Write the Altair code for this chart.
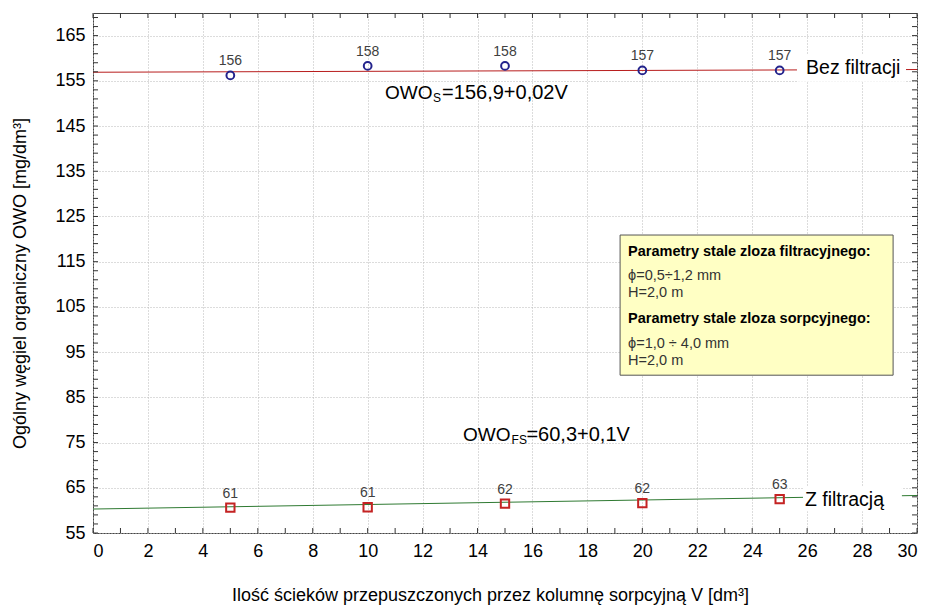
import altair as alt
import pandas as pd

# ---- data ----
V = [5, 10, 15, 20, 25]
owo_s = [156.2, 158.3, 158.3, 157.3, 157.3]
owo_s_lbl = ["156", "158", "158", "157", "157"]
owo_fs = [60.6, 60.7, 61.5, 61.6, 62.5]
owo_fs_lbl = ["61", "61", "62", "62", "63"]

fit_x = [0, 30]
fit_s = [156.9, 157.5]
fit_fs = [60.3, 63.3]

x_grid = [0, 2, 4, 6, 8, 10, 12, 14, 16, 18, 20, 22, 24, 26, 28, 30]
y_grid = [55, 65, 75, 85, 95, 105, 115, 125, 135, 145, 155, 165]
x_minor = list(range(0, 31))
y_minor = list(range(55, 171, 2))

FONT = "Liberation Sans"
W, H = 824, 520

xs = alt.Scale(domain=[0, 30], nice=False, zero=False)
ys = alt.Scale(domain=[55, 170], nice=False, zero=False)

pts_s = pd.DataFrame({"V": V, "y": owo_s, "lbl": owo_s_lbl})
pts_fs = pd.DataFrame({"V": V, "y": owo_fs, "lbl": owo_fs_lbl})
fit = pd.DataFrame({"V": fit_x, "s": fit_s, "fs": fit_fs})

X = alt.X("V:Q", scale=xs, axis=alt.Axis(
    values=x_grid, title="Ilość ścieków przepuszczonych przez kolumnę sorpcyjną V [dm³]",
    titleX=397, titleY=62, titleBaseline="middle", labelPadding=9))
Y = alt.Y("y:Q", scale=ys, axis=alt.Axis(
    values=y_grid, title="Ogólny węgiel organiczny OWO [mg/dm³]",
    titleX=-73, titleY=270, titleBaseline="middle", labelPadding=8))

base_grid = alt.Chart(pts_s).mark_point(opacity=0).encode(x=X, y=Y)

line_s = alt.Chart(fit).mark_line(color="#b81d1d", strokeWidth=1).encode(
    x=alt.X("V:Q", scale=xs), y=alt.Y("s:Q", scale=ys))
line_fs = alt.Chart(fit).mark_line(color="#2f7a32", strokeWidth=1).encode(
    x=alt.X("V:Q", scale=xs), y=alt.Y("fs:Q", scale=ys))

# white backgrounds behind line labels
lab_bg = pd.DataFrame({"x1": [25.63, 25.85], "x2": [29.6, 29.45],
                       "y1": [154.8, 59.8], "y2": [160.8, 65.2]})
bg = alt.Chart(lab_bg).mark_rect(color="white").encode(
    x=alt.X("x1:Q", scale=xs), x2="x2:Q", y=alt.Y("y1:Q", scale=ys), y2="y2:Q")

circ = alt.Chart(pts_s).mark_point(shape="circle", filled=False, color="#23238c",
                                   strokeWidth=2, size=60, opacity=1).encode(
    x=alt.X("V:Q", scale=xs), y=alt.Y("y:Q", scale=ys))
sq = alt.Chart(pts_fs).mark_point(shape="square", filled=False, color="#c42323",
                                  strokeWidth=2, size=70, opacity=1).encode(
    x=alt.X("V:Q", scale=xs), y=alt.Y("y:Q", scale=ys))

lbl_s = alt.Chart(pts_s).mark_text(font=FONT, fontSize=14, color="#404040", dy=-14).encode(
    x=alt.X("V:Q", scale=xs), y=alt.Y("y:Q", scale=ys), text="lbl:N")
lbl_fs = alt.Chart(pts_fs).mark_text(font=FONT, fontSize=14, color="#404040", dy=-14).encode(
    x=alt.X("V:Q", scale=xs), y=alt.Y("y:Q", scale=ys), text="lbl:N")

# annotations (data coordinates)
ann_owo = pd.DataFrame({"x": [10.63, 13.47], "y": [152.3, 76.7], "t": ["OWO", "OWO"]})
ann_eq = pd.DataFrame({"x": [12.71, 15.78], "y": [152.3, 76.7],
                       "t": ["=156,9+0,02V", "=60,3+0,1V"]})
ann_sub = pd.DataFrame({"x": [12.38, 15.24], "y": [151.2, 75.6], "t": ["S", "FS"]})
ann_lines = pd.DataFrame({"x": [25.96, 25.92], "y": [157.8, 62.4],
                          "t": ["Bez filtracji", "Z filtracją"]})

def txt(df, size, **kw):
    return alt.Chart(df).mark_text(font=FONT, fontSize=size, color="black",
                                   align="left", baseline="middle", **kw).encode(
        x=alt.X("x:Q", scale=xs), y=alt.Y("y:Q", scale=ys), text="t:N")

t_owo = txt(ann_owo, 19)
t_eq = txt(ann_eq, 20)
t_sub = txt(ann_sub, 12)
t_lines = txt(ann_lines, 19.5)

# parameter box
box = pd.DataFrame({"x1": [19.19], "x2": [29.13], "y1": [89.9], "y2": [120.9]})
box_r = alt.Chart(box).mark_rect(fill="#ffffc4", stroke="#555555", strokeWidth=1).encode(
    x=alt.X("x1:Q", scale=xs), x2="x2:Q", y=alt.Y("y1:Q", scale=ys), y2="y2:Q")

box_lines = pd.DataFrame({
    "x": [19.48] * 6,
    "y": [117.1, 111.8, 108.1, 102.3, 96.8, 93.0],
    "t": ["Parametry stale zloza filtracyjnego:", "ϕ=0,5÷1,2 mm", "H=2,0 m",
          "Parametry stale zloza sorpcyjnego:", "ϕ=1,0 ÷ 4,0 mm", "H=2,0 m"],
    "w": ["bold", "normal", "normal", "bold", "normal", "normal"],
})
box_bold = alt.Chart(box_lines[box_lines.w == "bold"]).mark_text(
    font=FONT, fontSize=14.5, fontWeight="bold", color="black", align="left", baseline="middle").encode(
    x=alt.X("x:Q", scale=xs), y=alt.Y("y:Q", scale=ys), text="t:N")
box_norm = alt.Chart(box_lines[box_lines.w == "normal"]).mark_text(
    font=FONT, fontSize=14.5, color="#333333", align="left", baseline="middle").encode(
    x=alt.X("x:Q", scale=xs), y=alt.Y("y:Q", scale=ys), text="t:N")

# inner ticks
xt = pd.DataFrame({"V": x_minor})
yt = pd.DataFrame({"y": y_minor})
tick_b = alt.Chart(xt).mark_rule(color="#333", strokeWidth=1).encode(
    x=alt.X("V:Q", scale=xs), y=alt.value(H - 5), y2=alt.value(H))
tick_t = alt.Chart(xt).mark_rule(color="#333", strokeWidth=1).encode(
    x=alt.X("V:Q", scale=xs), y=alt.value(0), y2=alt.value(5))
tick_l = alt.Chart(yt).mark_rule(color="#333", strokeWidth=1).encode(
    y=alt.Y("y:Q", scale=ys), x=alt.value(0), x2=alt.value(5))
tick_r = alt.Chart(yt).mark_rule(color="#333", strokeWidth=1).encode(
    y=alt.Y("y:Q", scale=ys), x=alt.value(W - 5), x2=alt.value(W))

chart = alt.layer(
    base_grid, line_s, line_fs, bg, box_r, box_bold, box_norm,
    circ, sq, lbl_s, lbl_fs, t_owo, t_eq, t_sub, t_lines,
    tick_b, tick_t, tick_l, tick_r,
).properties(
    width=W, height=H,
    autosize=alt.AutoSizeParams(type="none"),
    padding={"left": 93, "top": 13, "right": 11, "bottom": 73},
    background="white",
).configure_view(
    stroke="#444444", strokeWidth=1
).configure_axis(
    labelFont=FONT, labelFontSize=18, labelColor="black",
    titleFont=FONT, titleFontSize=18, titleFontWeight="normal", titleColor="black",
    ticks=False, domain=False,
    grid=True, gridColor="#b8b8b8", gridDash=[1, 2], gridWidth=1,
)

chart.save("out.html", embed_options={"renderer": "svg", "actions": False})
